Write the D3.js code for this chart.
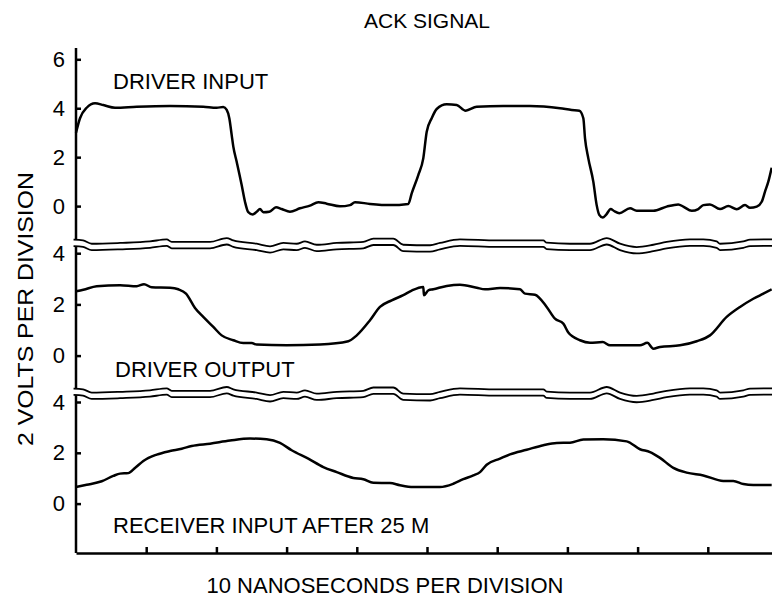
<!DOCTYPE html>
<html>
<head>
<meta charset="utf-8">
<script src="https://cdn.jsdelivr.net/npm/d3@7"></script>
<style>
  body { margin: 0; background: #fff; }
  svg { display: block; font-family: "Liberation Sans", Arial, Helvetica, sans-serif; }
  .trace { fill: none; stroke: #000; stroke-width: 2.5; stroke-linejoin: round; }
  .brk { fill: #fff; stroke: none; }
  .brk-line { fill: none; stroke: #000; stroke-width: 1.8; }
  .axis path, .axis line { stroke: #000; stroke-width: 2.5; }
  .axis text { font-size: 22px; fill: #000; }
</style>
</head>
<body>
<div id="chart"></div>
<script>
// time in ns (10 ns per division), level in volts
const inputTime = [0, 0.57, 1.52, 2.71, 3.89, 5.56, 8.65, 13.39, 18.13, 20.04, 20.98, 21.47, 21.84, 22.18, 22.41, 22.89, 23.6, 24.07, 24.54, 25.17, 25.74, 26.21, 26.68, 27.54, 28.49, 29.3, 30.48, 31.91, 33.33, 34.52, 35.71, 37.61, 39.03, 39.74, 41.88, 44.73, 47.34, 47.82, 48.76, 49.47, 49.96, 50.67, 51.38, 52.81, 54.23, 55.51, 57.08, 60.87, 64.67, 68.95, 70.61, 71.7, 72.27, 72.51, 72.98, 73.69, 74.17, 74.54, 75.03, 75.5, 76.17, 76.64, 77.39, 78.92, 79.87, 82.24, 84.14, 85.8, 86.51, 87.71, 88.65, 89.36, 90.31, 91.74, 92.92, 94.12, 95.3, 96.01, 96.97, 97.68, 98.15, 98.62, 99.1];
const inputVolts = [3.0, 3.59, 4.02, 4.2, 4.13, 4.02, 4.06, 4.09, 4.06, 4.02, 4.05, 3.93, 3.59, 2.9, 2.43, 1.81, 0.86, 0.18, -0.25, -0.34, -0.23, -0.12, -0.25, -0.23, -0.05, -0.12, -0.23, -0.09, 0.02, 0.16, 0.1, -0.01, 0.04, 0.16, 0.09, 0.04, 0.09, 0.52, 1.27, 1.95, 3.04, 3.59, 3.97, 4.16, 4.13, 3.9, 4.06, 4.09, 4.09, 4.0, 3.93, 3.9, 3.59, 2.77, 1.95, 1.0, 0.04, -0.36, -0.47, -0.36, -0.12, -0.2, -0.29, -0.09, -0.19, -0.19, -0.02, 0.07, -0.02, -0.19, -0.12, 0.04, 0.07, -0.12, 0.0, -0.13, 0.04, -0.07, -0.02, 0.18, 0.59, 1.0, 1.57];

const outputTime = [0, 1.04, 2.95, 6.27, 8.65, 9.69, 10.78, 13.39, 14.57, 15.67, 16.95, 18.13, 19.56, 20.75, 22.41, 23.83, 25.03, 25.74, 30.01, 34.76, 38.79, 39.99, 41.88, 43.3, 44.97, 46.62, 47.82, 49.47, 49.57, 50.19, 50.9, 52.81, 54.7, 57.08, 58.26, 60.4, 63.25, 63.96, 65.38, 67.05, 68.23, 69.42, 70.13, 71.79, 73.22, 75.03, 76.07, 80.34, 81.38, 82.24, 83.19, 86.04, 88.42, 90.31, 92.69, 94.59, 96.48, 97.91, 99.1];
const outputVolts = [2.51, 2.57, 2.71, 2.75, 2.71, 2.79, 2.67, 2.65, 2.59, 2.42, 1.86, 1.51, 1.12, 0.79, 0.6, 0.49, 0.49, 0.43, 0.4, 0.43, 0.56, 0.79, 1.38, 1.9, 2.16, 2.36, 2.54, 2.68, 2.36, 2.55, 2.59, 2.72, 2.77, 2.65, 2.59, 2.64, 2.59, 2.42, 2.38, 1.9, 1.44, 1.25, 0.9, 0.6, 0.5, 0.53, 0.4, 0.4, 0.5, 0.27, 0.34, 0.4, 0.56, 0.79, 1.51, 1.9, 2.22, 2.42, 2.59];

const receiverTime = [0, 1.52, 3.66, 5.31, 6.27, 7.45, 8.4, 9.59, 11.5, 13.39, 15.06, 16.48, 19.09, 21.94, 24.79, 27.16, 29.06, 30.72, 33.09, 35.23, 37.14, 39.5, 40.93, 42.35, 44.73, 46.15, 48.05, 51.85, 53.75, 55.17, 56.6, 57.55, 58.5, 60.4, 61.82, 64.2, 66.57, 68.48, 70.37, 72.27, 75.11, 78.45, 80.34, 81.77, 83.19, 85.09, 86.99, 89.36, 92.21, 93.63, 95.06, 96.48, 99.1];
const receiverVolts = [0.65, 0.74, 0.88, 1.09, 1.18, 1.2, 1.4, 1.68, 1.93, 2.07, 2.16, 2.27, 2.36, 2.48, 2.56, 2.53, 2.39, 2.1, 1.77, 1.44, 1.24, 1.01, 0.96, 0.82, 0.81, 0.72, 0.65, 0.65, 0.78, 0.96, 1.11, 1.24, 1.53, 1.77, 1.94, 2.12, 2.3, 2.39, 2.4, 2.52, 2.53, 2.45, 2.14, 2.03, 1.8, 1.41, 1.22, 1.11, 0.89, 0.89, 0.77, 0.73, 0.73];

// scale-break squiggle, in volts of the panel below it
const breakTime = [-0.35, 1.0, 2.24, 6.27, 10.54, 12.92, 13.63, 19.09, 21.47, 22.41, 25.74, 27.64, 29.53, 31.44, 32.62, 34.29, 37.14, 40.93, 42.35, 45.2, 46.62, 50.43, 51.85, 54.7, 59.93, 66.57, 67.05, 70.37, 73.22, 75.6, 77.49, 79.87, 82.24, 84.14, 87.46, 89.36, 91.27, 91.74, 95.06, 96.01, 99.1, 100];
const breakVolts = [4.53, 4.5, 4.37, 4.4, 4.46, 4.54, 4.44, 4.44, 4.59, 4.5, 4.37, 4.27, 4.4, 4.37, 4.46, 4.33, 4.4, 4.44, 4.57, 4.57, 4.33, 4.31, 4.4, 4.54, 4.5, 4.5, 4.41, 4.37, 4.37, 4.59, 4.37, 4.24, 4.33, 4.44, 4.54, 4.54, 4.46, 4.37, 4.46, 4.53, 4.54, 4.54];

const xTicks = [10, 20, 30, 40, 50, 60, 70, 80, 90];
const panelTicks = [[0, 2, 4, 6], [0, 2, 4], [0, 2, 4]];
const traceLabels = ['DRIVER INPUT', 'DRIVER OUTPUT', 'RECEIVER INPUT AFTER 25 M'];

const width = 772;
const height = 598;

const svg = d3.select('#chart')
  .append('svg')
  .attr('width', width)
  .attr('height', height);

const x = d3.scaleLinear().domain([0, 100]).range([76, 778]);

// each trace has its own volts scale (2 V per division)
const panels = [
  { y: d3.scaleLinear().domain([0, 6]).range([206.1, 59.3]), time: inputTime, volts: inputVolts, labelX: 113, labelY: 89 },
  { y: d3.scaleLinear().domain([0, 4]).range([355.6, 253.2]), time: outputTime, volts: outputVolts, labelX: 115, labelY: 377 },
  { y: d3.scaleLinear().domain([0, 4]).range([503.6, 402]), time: receiverTime, volts: receiverVolts, labelX: 113, labelY: 533 }
];

const axisTop = 48;
const axisBottom = 553;
const breakGap = 0.25;

// y axis spine
svg.append('line')
  .attr('x1', x(0)).attr('x2', x(0))
  .attr('y1', axisTop).attr('y2', axisBottom)
  .attr('stroke', '#000')
  .attr('stroke-width', 2.5);

panels.forEach((p, i) => {
  const g = svg.append('g')
    .attr('class', 'axis')
    .attr('transform', `translate(${x(0)},0)`)
    .call(
      d3.axisLeft(p.y)
        .tickValues(panelTicks[i])
        .tickFormat(d3.format('d'))
        .tickSizeInner(-5)
        .tickSizeOuter(0)
        .tickPadding(11)
    );
  g.select('.domain').remove();
  g.attr('font-family', null);

  const line = d3.line()
    .x((d, j) => x(p.time[j]))
    .y(d => p.y(d))
    .curve(d3.curveMonotoneX);

  svg.append('path')
    .attr('class', 'trace')
    .attr('d', line(p.volts));

  svg.append('text')
    .attr('x', p.labelX)
    .attr('y', p.labelY)
    .attr('font-size', 22)
    .text(traceLabels[i]);
});

// scale breaks between the traces
panels.slice(1).forEach(p => {
  const band = d3.area()
    .x((d, j) => x(breakTime[j]))
    .y0(d => p.y(d - breakGap))
    .y1(d => p.y(d))
    .curve(d3.curveMonotoneX);

  svg.append('path')
    .attr('class', 'brk')
    .attr('d', band(breakVolts));

  [0, breakGap].forEach(off => {
    const edge = d3.line()
      .x((d, j) => x(breakTime[j]))
      .y(d => p.y(d - off))
      .curve(d3.curveMonotoneX);
    svg.append('path')
      .attr('class', 'brk-line')
      .attr('d', edge(breakVolts));
  });
});

// x axis
svg.append('g')
  .attr('class', 'axis')
  .attr('transform', `translate(0,${axisBottom})`)
  .call(
    d3.axisBottom(x)
      .tickValues(xTicks)
      .tickSizeInner(-6)
      .tickSizeOuter(0)
      .tickFormat('')
  );

svg.append('text')
  .attr('x', 427)
  .attr('y', 28)
  .attr('text-anchor', 'middle')
  .attr('font-size', 21)
  .text('ACK SIGNAL');

svg.append('text')
  .attr('x', 385)
  .attr('y', 593)
  .attr('text-anchor', 'middle')
  .attr('font-size', 22)
  .text('10 NANOSECONDS PER DIVISION');

svg.append('text')
  .attr('transform', 'translate(33,309) rotate(-90)')
  .attr('text-anchor', 'middle')
  .attr('font-size', 22)
  .attr('textLength', 274)
  .attr('lengthAdjust', 'spacingAndGlyphs')
  .text('2 VOLTS PER DIVISION');
</script>
</body>
</html>
